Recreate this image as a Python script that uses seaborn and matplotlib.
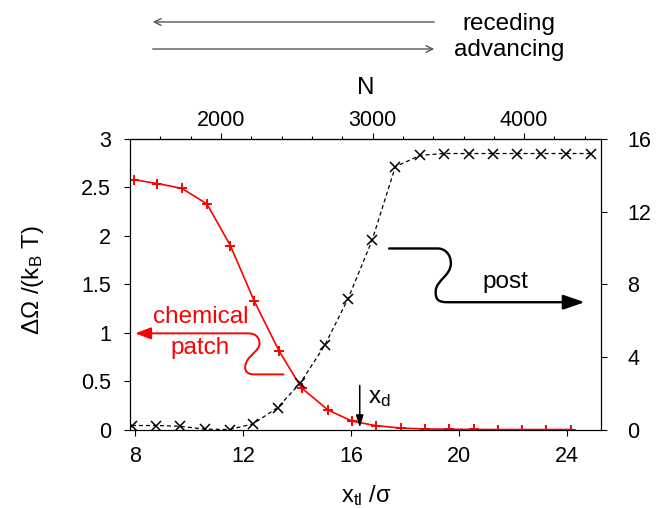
import seaborn as sns
import matplotlib.pyplot as plt
from matplotlib.path import Path
from matplotlib.patches import FancyArrowPatch, ArrowStyle
from matplotlib.ticker import MultipleLocator

# chemical patch branch (left axis)
patch_x = [7.95, 8.82, 9.73, 10.66, 11.53, 12.41, 13.34, 14.17, 15.16, 16.05,
           16.93, 17.85, 18.75, 19.65, 20.55, 21.45, 22.35, 23.25, 24.15]
patch_y = [2.58, 2.54, 2.49, 2.33, 1.90, 1.33, 0.81, 0.43, 0.20, 0.086,
           0.04, 0.015, 0.006, 0.003, 0.001, 0.0, 0.0, 0.0, 0.0]

# post branch (right axis)
post_x = [7.88, 8.78, 9.65, 10.58, 11.50, 12.37, 13.28, 14.13, 15.03, 15.90,
          16.79, 17.65, 18.57, 19.47, 20.37, 21.27, 22.17, 23.07, 23.98, 24.89]
post_y = [0.22, 0.22, 0.18, 0.02, 0.0, 0.31, 1.20, 2.57, 4.63, 7.21,
          10.43, 14.47, 15.10, 15.20, 15.20, 15.20, 15.20, 15.20, 15.20, 15.20]

x_ticks = [8, 12, 16, 20, 24]
left_ticks = [0, 0.5, 1, 1.5, 2, 2.5, 3]
right_ticks = [0, 4, 8, 12, 16]
n_ticks = [2000, 3000, 4000]
x_d = 16.33

sns.set_style("ticks")
plt.rcParams["font.family"] = ["Liberation Sans", "DejaVu Sans"]
plt.rcParams["mathtext.default"] = "regular"
plt.rcParams["axes.linewidth"] = 0.8
for key in ["text.color", "axes.labelcolor", "xtick.color", "ytick.color",
            "axes.edgecolor"]:
    plt.rcParams[key] = "black"
FS = 15.5
FT = 17.5

fig = plt.figure(figsize=(6.57, 5.08), dpi=100)
ax = fig.add_axes([0.1986, 0.1545, 0.7162, 0.5719])
ax2 = ax.twinx()

sns.lineplot(x=patch_x, y=patch_y, ax=ax, color="red", lw=1.2,
             marker="+", markersize=6.5, markeredgewidth=1.4,
             markeredgecolor="red")
sns.lineplot(x=post_x, y=post_y, ax=ax2, color="black", lw=0.9,
             linestyle=(0, (3.2, 2.4)), marker="x", markersize=6.5,
             markeredgewidth=1.1, markeredgecolor="black")

ax.set_xlim(7.826, 25.28)
ax.set_ylim(0, 3)
ax2.set_ylim(0, 16)
ax.set_xticks(x_ticks)
ax.set_yticks(left_ticks)
ax.set_yticklabels(["0", "0.5", "1", "1.5", "2", "2.5", "3"])
ax2.set_yticks(right_ticks)

for a in (ax, ax2):
    for s in a.spines.values():
        s.set_color("black")
        s.set_linewidth(0.8)

ax.tick_params(axis="x", direction="out", length=4, width=0.8,
               labelsize=FS, pad=8)
ax.tick_params(axis="y", direction="out", length=4, width=0.8,
               labelsize=FS, pad=10)
ax2.tick_params(axis="y", direction="out", length=4, width=0.8,
                labelsize=FS, pad=15)

# top axis: number of particles
def x2n(x):
    return 2000 + (x - 11.18) * 177.8


def n2x(n):
    return 11.18 + (n - 2000) / 177.8


sec = ax.secondary_xaxis("top", functions=(x2n, n2x))
sec.set_xticks(n_ticks)
sec.xaxis.set_minor_locator(MultipleLocator(200))
sec.tick_params(which="major", direction="out", length=4, width=0.8,
                labelsize=FS, pad=2)
sec.tick_params(which="minor", direction="out", length=2.2, width=0.8)
sec.spines["top"].set_linewidth(0.8)
sec.set_xlabel("N", fontsize=FT)
sec.xaxis.set_label_coords(0.5, 1.155, transform=ax.transAxes)

ax.set_xlabel("x$_{tl}$ /σ", fontsize=FT - 0.5)
ax.xaxis.set_label_coords(0.5, -0.185)
ax.set_ylabel("ΔΩ /(k$_B$ T)", fontsize=FT)
ax.yaxis.set_label_coords(-0.18, 0.515)
ax2.set_ylabel("")

# chemical patch annotation
chem = Path(
    [(13.50, 0.569), (12.42, 0.569),
     (12.05, 0.569), (12.01, 0.641), (12.16, 0.714),
     (12.31, 0.786), (12.61, 0.817), (12.61, 0.890),
     (12.61, 0.962), (12.42, 0.993), (12.20, 0.993),
     (8.00, 0.993)],
    [Path.MOVETO, Path.LINETO,
     Path.CURVE4, Path.CURVE4, Path.CURVE4,
     Path.CURVE4, Path.CURVE4, Path.CURVE4,
     Path.CURVE4, Path.CURVE4, Path.CURVE4,
     Path.LINETO])
ax.add_patch(FancyArrowPatch(path=chem, color="red", lw=1.4,
                             arrowstyle=ArrowStyle("-|>", head_length=0.95,
                                                   head_width=0.36),
                             mutation_scale=10))
ax.text(10.42, 1.16, "chemical", color="red", fontsize=FT,
        ha="center", va="center")
ax.text(10.42, 0.84, "patch", color="red", fontsize=FT,
        ha="center", va="center")

# post annotation
post = Path(
    [(17.42, 9.97), (19.22, 9.97),
     (19.49, 9.97), (19.71, 9.66), (19.71, 9.14),
     (19.71, 8.50), (19.19, 8.22), (19.15, 7.67),
     (19.12, 7.12), (19.27, 7.01), (19.60, 7.01),
     (24.67, 7.01)],
    [Path.MOVETO, Path.LINETO,
     Path.CURVE4, Path.CURVE4, Path.CURVE4,
     Path.CURVE4, Path.CURVE4, Path.CURVE4,
     Path.CURVE4, Path.CURVE4, Path.CURVE4,
     Path.LINETO])
ax2.add_patch(FancyArrowPatch(path=post, color="black", lw=1.7,
                              arrowstyle=ArrowStyle("-|>", head_length=1.3,
                                                    head_width=0.45),
                              mutation_scale=10))
ax2.text(21.75, 8.11, "post", color="black", fontsize=FT,
         ha="center", va="center")

# x_d marker
ax.annotate("", xy=(x_d, 0.02), xytext=(x_d, 0.455),
            arrowprops=dict(arrowstyle=ArrowStyle("-|>", head_length=0.72,
                                                  head_width=0.22),
                            mutation_scale=10, color="black", lw=1.1,
                            shrinkA=0, shrinkB=0))
ax.text(x_d + 0.3, 0.33, "x$_d$", fontsize=FT, ha="left", va="center")

# receding / advancing arrows above the plot
grey = "#555555"
fig.add_artist(FancyArrowPatch((437, 486), (150, 486), transform=None,
                               arrowstyle="->", mutation_scale=12,
                               color=grey, lw=1.0))
fig.add_artist(FancyArrowPatch((150, 459), (437, 459), transform=None,
                               arrowstyle="->", mutation_scale=12,
                               color=grey, lw=1.0))
fig.text(509 / 657, 1 - 24 / 508, "receding", fontsize=FT,
         ha="center", va="center")
fig.text(509 / 657, 1 - 50 / 508, "advancing", fontsize=FT,
         ha="center", va="center")

fig.savefig("out.png", dpi=100)
